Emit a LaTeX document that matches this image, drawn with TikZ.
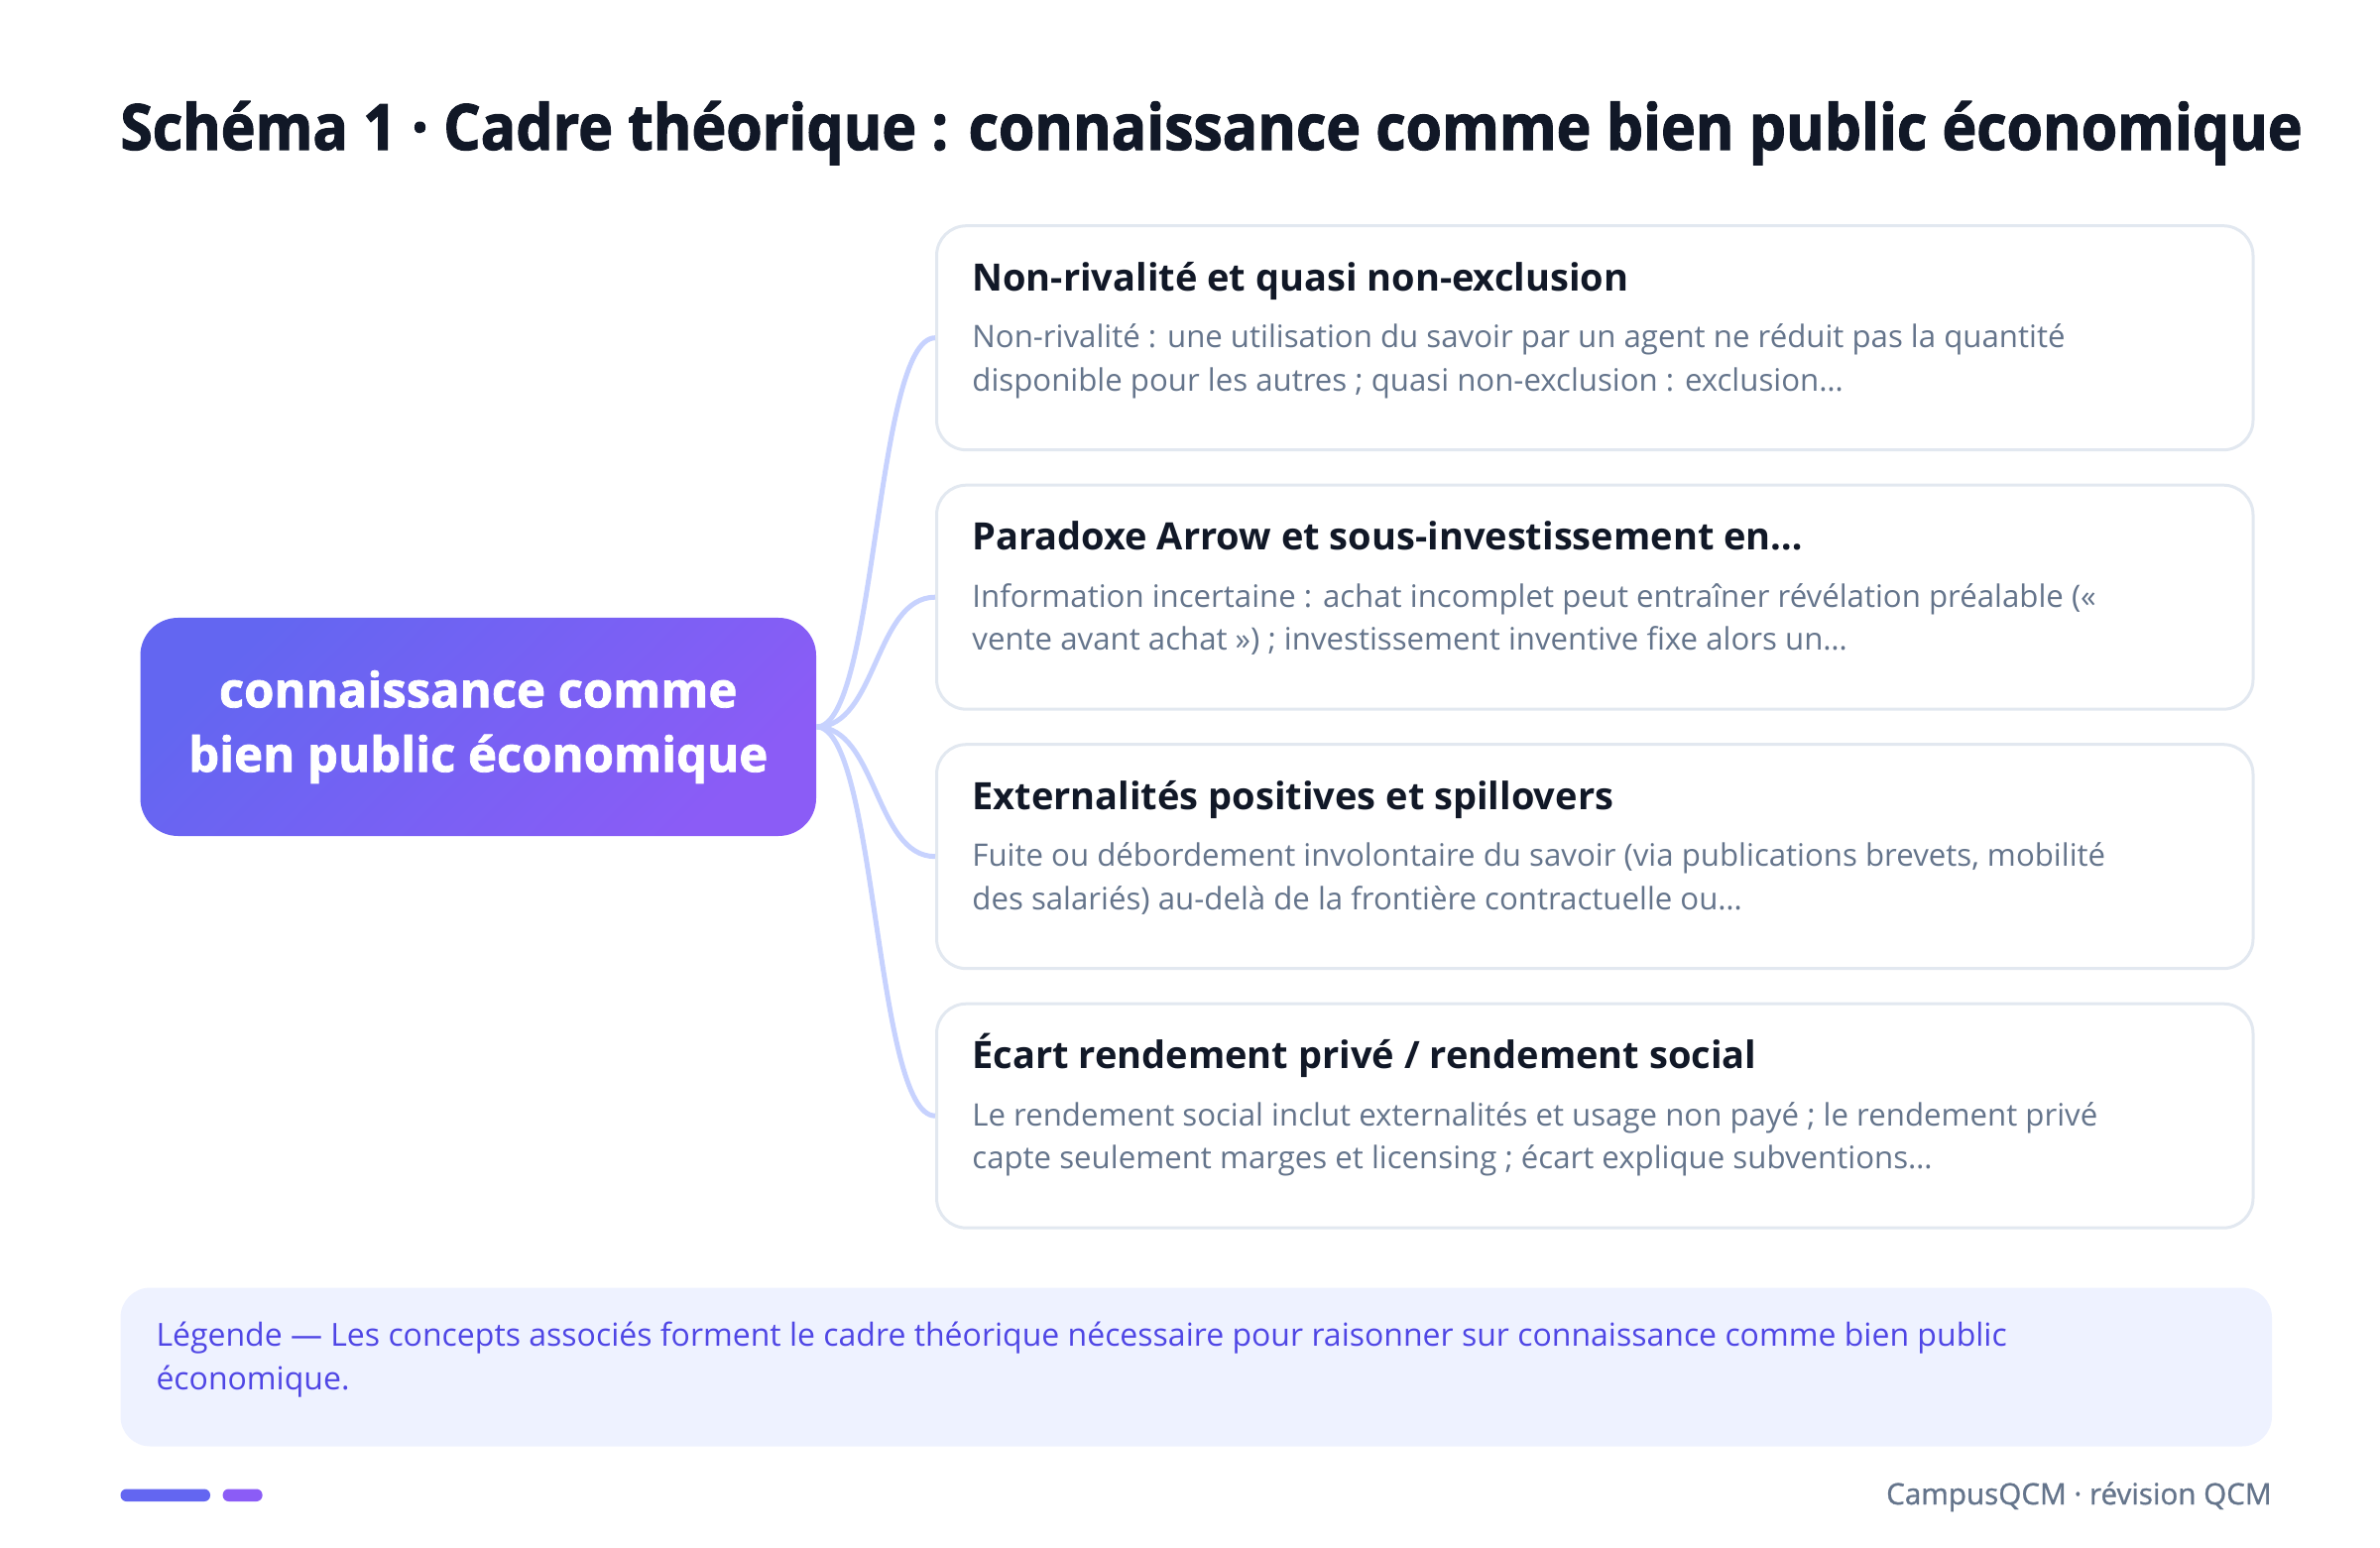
\documentclass[tikz,border=0pt]{standalone}
\usepackage{fontspec}
\setmainfont{Open Sans}
\newfontfamily\heavyfont{Open Sans}[BoldFeatures={FakeBold=1.6}]
\newfontfamily\titlefont{Open Sans}[BoldFeatures={FakeBold=1.8,FakeStretch=0.92}]
\newfontfamily\semifont{Open Sans}[FakeBold=1]
\usetikzlibrary{positioning}

\definecolor{inkdark}{HTML}{111827}
\definecolor{inkgray}{HTML}{64748B}
\definecolor{cardline}{HTML}{E2E8F0}
\definecolor{linkblue}{HTML}{C7D2FE}
\definecolor{hubleft}{HTML}{6366F1}
\definecolor{hubright}{HTML}{8B5CF6}
\definecolor{legendfill}{HTML}{EEF2FF}
\definecolor{legendink}{HTML}{4F46E5}

\begin{document}
\begin{tikzpicture}[x=0.5pt,y=-0.5pt,
    hub/.style={rounded corners=19pt, minimum width=340.75pt, minimum height=110pt,
      inner sep=0pt, top color=hubleft, bottom color=hubright, shading angle=45,
      text=white, align=center, font=\heavyfont\bfseries\fontsize{24.5}{32.5}\selectfont},
    card/.style={draw=cardline, line width=1.5pt, fill=white, rounded corners=15pt,
      minimum width=663.75pt, minimum height=113pt, inner sep=0pt},
    head/.style={anchor=base west, inner sep=0pt, text=inkdark,
      font=\bfseries\fontsize{19}{24}\selectfont},
    body/.style={anchor=base west, inner sep=0pt, text=inkgray, align=left,
      font=\fontsize{15.6}{21.7}\selectfont},
    link/.style={draw=linkblue, line width=2.5pt}]
  \pgfmathsetmacro{\CardTop}{227.7}
  \pgfmathsetmacro{\CardStep}{261.5}
  \useasboundingbox (0,0) rectangle (2400,1561);

  % title
  \node[anchor=base west, inner sep=0pt, text=inkdark,
    font=\titlefont\bfseries\fontsize{32}{40}\selectfont] (title) at (121,151)
    {Schéma 1 · Cadre théorique : connaissance comme bien public économique};

  \node[hub] (hub) at (482.25,733) {connaissance comme\\bien public économique};

  % concept cards (body node sits on the baseline of its last line)
  \foreach \i/\head/\lineA/\lineB in {
      1/{Non-rivalité et quasi non-exclusion}/{Non-rivalité : une utilisation du savoir par un agent ne réduit pas la quantité}/{disponible pour les autres ; quasi non-exclusion : exclusion…},
      2/{Paradoxe Arrow et sous-investissement en…}/{Information incertaine : achat incomplet peut entraîner révélation préalable («}/{vente avant achat ») ; investissement inventive fixe alors un…},
      3/{Externalités positives et spillovers}/{Fuite ou débordement involontaire du savoir (via publications brevets, mobilité}/{des salariés) au-delà de la frontière contractuelle ou…},
      4/{Écart rendement privé / rendement social}/{Le rendement social inclut externalités et usage non payé ; le rendement privé}/{capte seulement marges et licensing ; écart explique subventions…}}{
    \pgfmathsetmacro{\cy}{\CardTop+113+(\i-1)*\CardStep}
    \node[card] (card\i) at (1608.25,\cy) {};
    \draw[link] (hub.east) .. controls +(30.4pt,0) and +(-30.4pt,0) .. (card\i.west);
    \node[head] (head\i) at ([xshift=18.5pt,yshift=-33.5pt]card\i.north west) {\head};
    \node[body] (body\i) at ([xshift=18.5pt,yshift=-84pt]card\i.north west) {\lineA\\\lineB};
  }

  % legend
  \node[fill=legendfill, rounded corners=15pt, minimum width=1084.75pt,
    minimum height=80pt, inner sep=0pt] (legend) at (1206.25,1378.5) {};
  \node[body, text=legendink, font=\fontsize{16}{22}\selectfont] (legendtext)
    at ([xshift=18pt,yshift=-51.75pt]legend.north west)
    {Légende — Les concepts associés forment le cadre théorique nécessaire pour raisonner sur connaissance comme bien public\\économique.};

  % footer
  \fill[hubleft, rounded corners=3pt] (121.5,1501.5) rectangle (212,1514);
  \fill[hubright, rounded corners=3pt] (224.6,1501.5) rectangle (264.6,1514);
  \node[anchor=base east, inner sep=0pt, text=inkgray, font=\semifont\fontsize{14.8}{16}\selectfont]
    (brand) at (2291,1517) {CampusQCM · révision QCM};
\end{tikzpicture}
\end{document}
